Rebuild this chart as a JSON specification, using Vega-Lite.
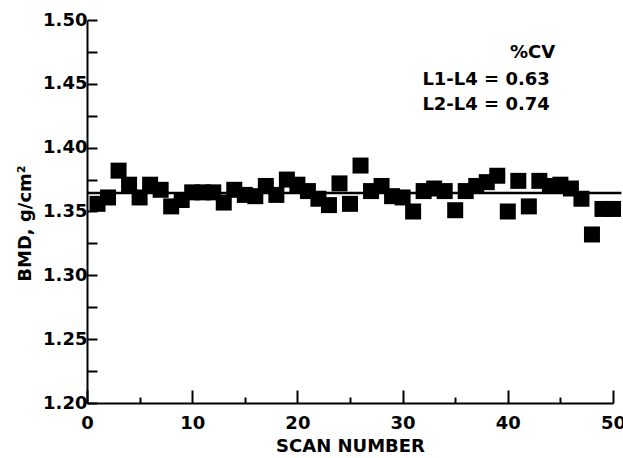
{
  "$schema": "https://vega.github.io/schema/vega-lite/v6.json",
  "width": 526,
  "height": 383,
  "autosize": "none",
  "padding": {"left": 87, "top": 20, "right": 10, "bottom": 55},
  "background": "white",
  "config": {"view": {"stroke": null}, "font": "DejaVu Sans"},
  "datasets": {
    "scans": [
      {"scan": 1, "bmd": 1.356}, {"scan": 2, "bmd": 1.361}, {"scan": 3, "bmd": 1.382}, {"scan": 4, "bmd": 1.371},
      {"scan": 5, "bmd": 1.361}, {"scan": 6, "bmd": 1.371}, {"scan": 7, "bmd": 1.367}, {"scan": 8, "bmd": 1.354},
      {"scan": 9, "bmd": 1.359}, {"scan": 10, "bmd": 1.365}, {"scan": 11, "bmd": 1.365}, {"scan": 12, "bmd": 1.365},
      {"scan": 13, "bmd": 1.357}, {"scan": 14, "bmd": 1.367}, {"scan": 15, "bmd": 1.363}, {"scan": 16, "bmd": 1.362},
      {"scan": 17, "bmd": 1.370}, {"scan": 18, "bmd": 1.363}, {"scan": 19, "bmd": 1.375}, {"scan": 20, "bmd": 1.371},
      {"scan": 21, "bmd": 1.366}, {"scan": 22, "bmd": 1.360}, {"scan": 23, "bmd": 1.355}, {"scan": 24, "bmd": 1.372},
      {"scan": 25, "bmd": 1.356}, {"scan": 26, "bmd": 1.386}, {"scan": 27, "bmd": 1.366}, {"scan": 28, "bmd": 1.370},
      {"scan": 29, "bmd": 1.362}, {"scan": 30, "bmd": 1.361}, {"scan": 31, "bmd": 1.350}, {"scan": 32, "bmd": 1.366},
      {"scan": 33, "bmd": 1.368}, {"scan": 34, "bmd": 1.366}, {"scan": 35, "bmd": 1.351}, {"scan": 36, "bmd": 1.366},
      {"scan": 37, "bmd": 1.370}, {"scan": 38, "bmd": 1.373}, {"scan": 39, "bmd": 1.378}, {"scan": 40, "bmd": 1.350},
      {"scan": 41, "bmd": 1.374}, {"scan": 42, "bmd": 1.354}, {"scan": 43, "bmd": 1.374}, {"scan": 44, "bmd": 1.370},
      {"scan": 45, "bmd": 1.371}, {"scan": 46, "bmd": 1.368}, {"scan": 47, "bmd": 1.360}, {"scan": 48, "bmd": 1.332},
      {"scan": 49, "bmd": 1.352}, {"scan": 50, "bmd": 1.352}
    ],
    "mean": [{"scan": 0, "scan_end": 50.8, "bmd": 1.3645}],
    "notes": [
      {"scan": 44.5, "bmd": 1.4741, "label": "%CV"},
      {"scan": 44.0, "bmd": 1.453, "label": "L1-L4 = 0.63"},
      {"scan": 44.0, "bmd": 1.4334, "label": "L2-L4 = 0.74"}
    ]
  },
  "encoding": {
    "x": {
      "field": "scan", "type": "quantitative",
      "scale": {"domain": [0, 50], "nice": false, "zero": false},
      "axis": {
        "title": "SCAN NUMBER",
        "values": [0, 5, 10, 15, 20, 25, 30, 35, 40, 45, 50],
        "labelExpr": "datum.value % 10 == 0 ? datum.label : ''",
        "grid": false,
        "domainColor": "black", "domainWidth": 2,
        "tickColor": "black", "tickWidth": 2,
        "tickSize": {"condition": {"test": "datum.value % 10 == 0", "value": -13}, "value": -6},
        "labelPadding": 24,
        "labelFont": "DejaVu Sans", "labelFontSize": 18, "labelFontWeight": "bold", "labelColor": "black",
        "labelFlush": false,
        "titleFont": "DejaVu Sans", "titleFontSize": 18, "titleFontWeight": "bold", "titleColor": "black",
        "titlePadding": 5
      }
    },
    "y": {
      "field": "bmd", "type": "quantitative",
      "scale": {"domain": [1.2, 1.5], "nice": false, "zero": false},
      "axis": {
        "title": "BMD, g/cm²",
        "values": [1.2, 1.225, 1.25, 1.275, 1.3, 1.325, 1.35, 1.375, 1.4, 1.425, 1.45, 1.475, 1.5],
        "labelExpr": "round(datum.value * 1000) % 50 == 0 ? format(datum.value, '.2f') : ''",
        "grid": false,
        "domainColor": "black", "domainWidth": 2,
        "tickColor": "black", "tickWidth": 2,
        "tickSize": -10,
        "labelPadding": 10,
        "labelFont": "DejaVu Sans", "labelFontSize": 18, "labelFontWeight": "bold", "labelColor": "black",
        "labelFlush": false,
        "titleFont": "DejaVu Sans", "titleFontSize": 18, "titleFontWeight": "bold", "titleColor": "black",
        "titlePadding": 8,
        "titleY": 203
      }
    }
  },
  "layer": [
    {
      "data": {"name": "mean"},
      "mark": {"type": "rule", "color": "black", "strokeWidth": 2.5},
      "encoding": {"x2": {"field": "scan_end"}}
    },
    {
      "data": {"name": "scans"},
      "mark": {"type": "square", "size": 256, "filled": true, "color": "black", "opacity": 1}
    },
    {
      "data": {"name": "notes"},
      "mark": {"type": "text", "align": "right", "baseline": "middle", "font": "DejaVu Sans", "fontSize": 18, "fontWeight": "bold", "color": "black"},
      "encoding": {"text": {"field": "label", "type": "nominal"}}
    }
  ]
}
